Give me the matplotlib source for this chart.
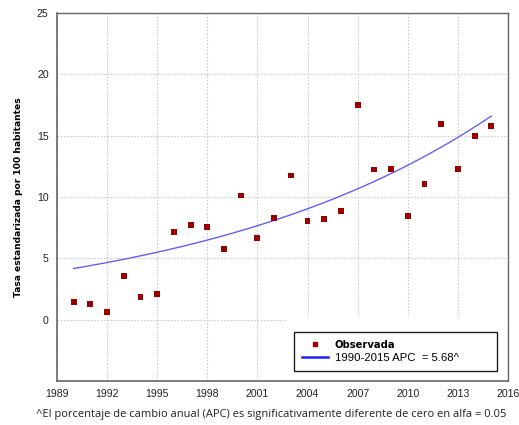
import numpy as np
import matplotlib
matplotlib.use("Agg")
import matplotlib.pyplot as plt
from matplotlib.lines import Line2D
from matplotlib.patches import Rectangle

# Observed standardized rates per 100 inhabitants
years = [1990, 1991, 1992, 1993, 1994, 1995, 1996, 1997, 1998, 1999,
         2000, 2001, 2002, 2003, 2004, 2005, 2006, 2007, 2008, 2009,
         2010, 2011, 2012, 2013, 2014, 2015]
observed = [1.41, 1.30, 0.65, 3.55, 1.87, 2.09, 7.11, 7.73, 7.57, 5.75,
            10.12, 6.65, 8.27, 11.75, 8.06, 8.19, 8.87, 17.53, 12.24, 12.30,
            8.47, 11.07, 15.93, 12.30, 14.95, 15.77]

# Joinpoint log-linear model: single segment 1990-2015
fit_start, fit_end = 1990, 2015
fit_base = 4.17      # modeled value in 1990
apc = 5.68           # annual percent change

x_ticks = [1989, 1992, 1995, 1998, 2001, 2004, 2007, 2010, 2013, 2016]
y_ticks = [0, 5, 10, 15, 20, 25]

fig = plt.figure(figsize=(5.19, 4.25), dpi=100)
ax = fig.add_axes([0.1098, 0.1035, 0.869, 0.866])

t = np.linspace(fit_start, fit_end, 200)
fitted = fit_base * (1 + apc / 100) ** (t - fit_start)
ax.plot(t, fitted, color="#6060ff", lw=1.0, zorder=3)
ax.scatter(years, observed, marker="s", s=18, color="#990000",
           edgecolors="none", zorder=4)

ax.set_xlim(1989, 2016)
ax.set_ylim(-5, 25)
ax.set_xticks(x_ticks)
ax.set_yticks(y_ticks)
ax.grid(True, color="#cccccc", linestyle=(0, (1.5, 1.5)), lw=0.8)
ax.set_axisbelow(True)
ax.tick_params(length=0, pad=6, labelsize=7.6, colors="#222222")
for lab in ax.get_xticklabels() + ax.get_yticklabels():
    lab.set_fontfamily("Liberation Sans")
for side, sp in ax.spines.items():
    sp.set_color("#666666")
    sp.set_linewidth(1.2 if side in ("left", "bottom") else 1.0)

ax.set_ylabel("Tasa estandarizada por 100 habitantes", fontsize=6.6,
              fontweight="bold", family="DejaVu Sans", labelpad=10)

# white backdrop around the legend box
ax.add_patch(Rectangle((0.508, 0.0), 0.49, 0.175, transform=ax.transAxes,
                       facecolor="white", edgecolor="none", zorder=2.5))

handles = [
    Line2D([], [], marker="s", ls="none", color="#990000", markersize=3.3),
    Line2D([], [], color="#2020ff", lw=1.8),
]
labels = ["Observada", "1990-2015 APC  = 5.68^"]
leg = ax.legend(handles, labels, loc="lower left",
                bbox_to_anchor=(0.525, 0.027, 0.451, 0.126), mode="expand",
                borderaxespad=0, frameon=True, fancybox=False,
                edgecolor="#222222", framealpha=1, handlelength=2.3,
                handletextpad=0.6, borderpad=0.7, labelspacing=0.3,
                fontsize=8.2)
leg.get_frame().set_linewidth(1.0)
leg.set_zorder(6)
txts = leg.get_texts()
txts[0].set_fontfamily("DejaVu Sans")
txts[0].set_fontweight("bold")
txts[0].set_fontsize(7.2)
txts[1].set_fontfamily("Liberation Sans")

fig.text(0.522, 0.025,
         "^El porcentaje de cambio anual (APC) es significativamente diferente de cero en alfa = 0.05",
         ha="center", va="center", fontsize=8.0, family="Open Sans",
         color="#222222")

fig.savefig("out.png", dpi=100)
